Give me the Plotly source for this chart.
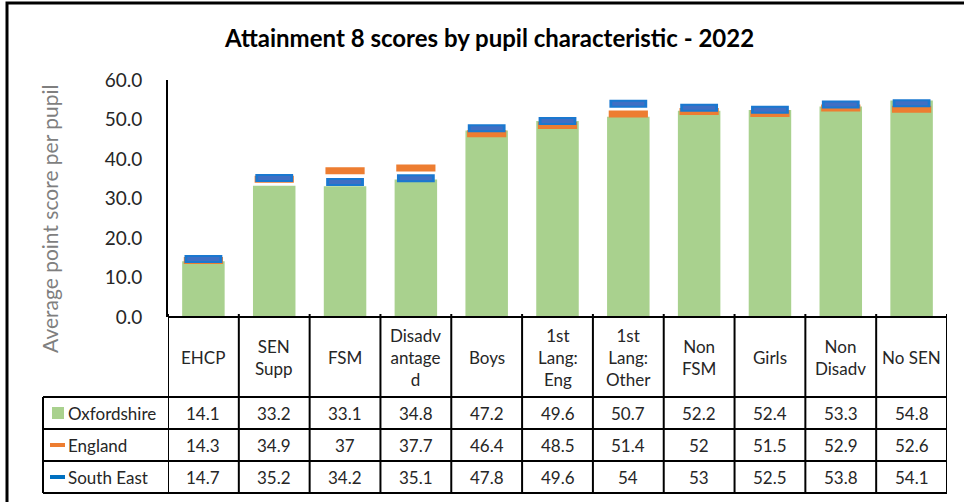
import plotly.graph_objects as go

categories = ["EHCP", "SEN Supp", "FSM", "Disadvantaged", "Boys", "1st Lang: Eng",
              "1st Lang: Other", "Non FSM", "Girls", "Non Disadv", "No SEN"]
header_labels = ["EHCP", "SEN<br>Supp", "FSM", "Disadv<br>antage<br>d", "Boys",
                 "1st<br>Lang:<br>Eng", "1st<br>Lang:<br>Other", "Non<br>FSM", "Girls",
                 "Non<br>Disadv", "No SEN"]
oxfordshire = [14.1, 33.2, 33.1, 34.8, 47.2, 49.6, 50.7, 52.2, 52.4, 53.3, 54.8]
england = [14.3, 34.9, 37, 37.7, 46.4, 48.5, 51.4, 52, 51.5, 52.9, 52.6]
south_east = [14.7, 35.2, 34.2, 35.1, 47.8, 49.6, 54, 53, 52.5, 53.8, 54.1]
series_names = ["Oxfordshire", "England", "South East"]
y_ticks = [0, 10, 20, 30, 40, 50, 60]

GREEN = "#A9D18E"
ORANGE = "#ED7D31"
BLUE_EDGE = "#1A78D0"
BLUE_FILL = "#3F6FC4"
FONT = "Lato"
TXT = "#262626"

W, H = 964, 502
L, R, T, B = 168, 17, 80, 185
PW, PH = W - L - R, H - T - B

def py(p):
    return (H - B - p) / PH

def px(p):
    return (p - L) / PW

xs = list(range(len(categories)))

fig = go.Figure()
fig.add_trace(go.Bar(x=xs, y=oxfordshire, width=0.6, marker=dict(color=GREEN, line=dict(width=0)),
                     name="Oxfordshire", showlegend=False, hoverinfo="y"))
fig.add_trace(go.Scatter(x=xs, y=england, mode="markers", name="England", showlegend=False,
                         marker=dict(symbol="line-ew", size=28, line=dict(width=7, color=ORANGE))))
fig.add_trace(go.Scatter(x=xs, y=south_east, mode="markers", name="South East", showlegend=False,
                         marker=dict(symbol="line-ew", size=27, line=dict(width=8, color=BLUE_EDGE))))
fig.add_trace(go.Scatter(x=xs, y=south_east, mode="markers", showlegend=False, hoverinfo="skip",
                         marker=dict(symbol="line-ew", size=23, line=dict(width=4, color=BLUE_FILL))))

shapes = []
ann = []
LW = 2
# outer chart border
shapes.append(dict(type="rect", xref="paper", yref="paper", x0=px(7), x1=px(975), y0=py(515), y1=py(3),
                   line=dict(color="black", width=3), layer="above"))
# table horizontal lines
for yy, x0 in [(317, 168), (397, 43), (429, 43), (461, 43), (493, 43)]:
    shapes.append(dict(type="line", xref="paper", yref="paper", x0=px(x0), x1=1.0,
                       y0=py(yy), y1=py(yy), line=dict(color="black", width=LW)))
# table vertical lines (category boundaries)
n = len(categories)
for k in range(n + 1):
    shapes.append(dict(type="line", xref="x", yref="paper", x0=k - 0.5, x1=k - 0.5,
                       y0=py(493), y1=py(314), line=dict(color="black", width=LW)))
shapes.append(dict(type="line", xref="paper", yref="paper", x0=px(43), x1=px(43),
                   y0=py(493), y1=py(397), line=dict(color="black", width=LW)))

# header labels
for i, lab in enumerate(header_labels):
    ann.append(dict(x=i, y=py(357), xref="x", yref="paper", text=lab, showarrow=False,
                    font=dict(family=FONT, size=17, color=TXT), align="center",
                    xanchor="center", yanchor="middle"))
# table values
row_centers = [413, 445, 477]
for r, vals in enumerate([oxfordshire, england, south_east]):
    for i, v in enumerate(vals):
        ann.append(dict(x=i, y=py(row_centers[r]), xref="x", yref="paper", text=str(v), showarrow=False,
                        font=dict(family=FONT, size=17, color=TXT), xanchor="center", yanchor="middle"))
    ann.append(dict(x=px(66), y=py(row_centers[r]), xref="paper", yref="paper", text=series_names[r],
                    showarrow=False, font=dict(family=FONT, size=17, color=TXT),
                    xanchor="left", yanchor="middle"))
# legend keys
shapes.append(dict(type="rect", xref="paper", yref="paper", x0=px(52), x1=px(64), y0=py(419), y1=py(407),
                   fillcolor=GREEN, line=dict(width=0)))
shapes.append(dict(type="line", xref="paper", yref="paper", x0=px(50), x1=px(65), y0=py(445), y1=py(445),
                   line=dict(color=ORANGE, width=4)))
shapes.append(dict(type="line", xref="paper", yref="paper", x0=px(50), x1=px(65), y0=py(477), y1=py(477),
                   line=dict(color="#0070C0", width=4)))

# title
ann.append(dict(x=px(489), y=py(38), xref="paper", yref="paper",
                text="<b>Attainment 8 scores by pupil characteristic - 2022</b>",
                showarrow=False, font=dict(family=FONT, size=24, color="black"),
                xanchor="center", yanchor="middle"))
# y axis title
ann.append(dict(x=px(49), y=py(219), xref="paper", yref="paper", text="Average point score per pupil",
                textangle=-90, showarrow=False, font=dict(family=FONT, size=21, color="#7F7F7F"),
                xanchor="center", yanchor="middle"))

fig.update_layout(
    width=W, height=H,
    margin=dict(l=L, r=R, t=T, b=B),
    paper_bgcolor="white", plot_bgcolor="white",
    shapes=shapes, annotations=ann,
    bargap=0.4,
    xaxis=dict(range=[-0.5, n - 0.5], showticklabels=False, showgrid=False, zeroline=False,
               showline=False, ticks=""),
    yaxis=dict(range=[0, 60], tickvals=y_ticks, tickformat=".1f", showgrid=False, zeroline=False,
               showline=True, linecolor="black", linewidth=2, ticks="", ticklen=0,
               tickfont=dict(family=FONT, size=19, color=TXT), ticklabelstandoff=20),
)

fig.write_html("out.html", config={"displayModeBar": False},
               post_script="document.body.style.margin='0';")
